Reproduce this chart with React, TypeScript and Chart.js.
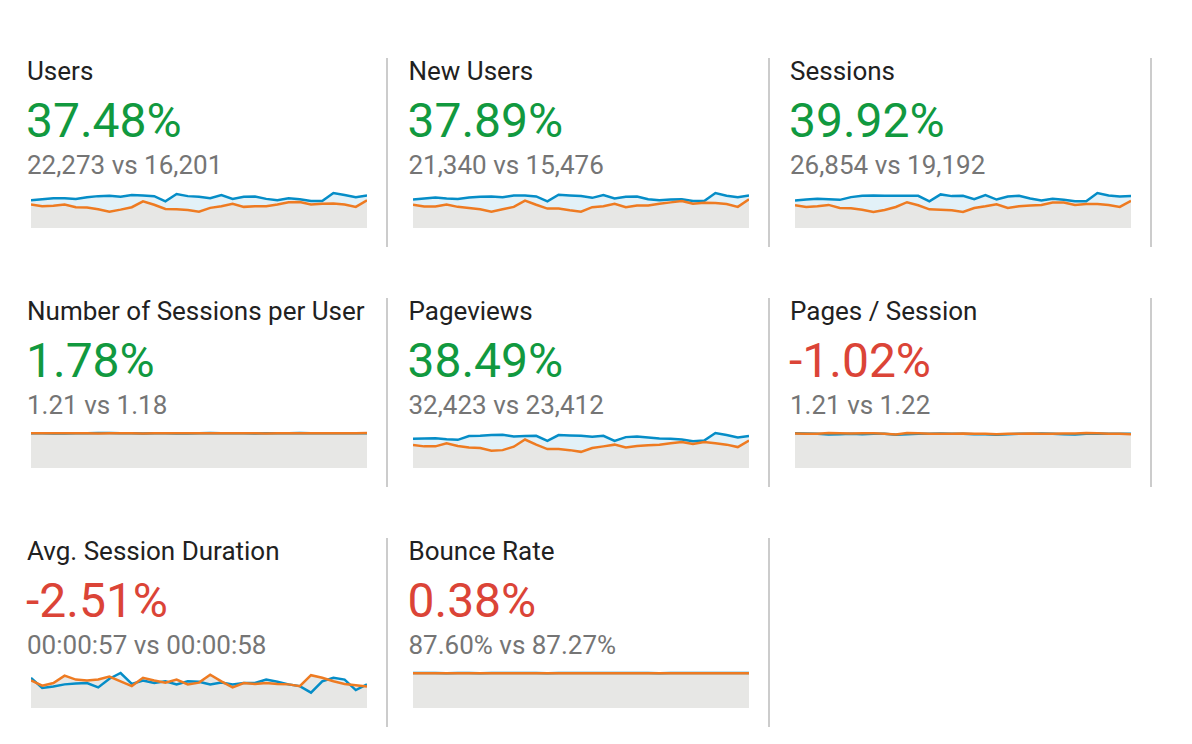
import { useEffect, useRef } from 'react';
import { Chart, registerables } from 'chart.js';

Chart.register(...registerables);

// daily points in the period (31 days)
const DAYS = Array.from({ length: 31 }, (_, i) => String(i + 1));

const usersNow = [656, 681, 705, 705, 689, 730, 754, 763, 738, 779, 771, 754, 631, 804, 754, 738, 705, 779, 689, 738, 746, 689, 656, 705, 681, 640, 640, 828, 779, 730, 771];
const usersPrev = [558, 517, 525, 558, 492, 484, 443, 385, 435, 492, 631, 549, 451, 443, 426, 385, 476, 517, 574, 500, 517, 517, 558, 607, 615, 558, 574, 582, 558, 500, 656];

const newUsersNow = [640, 663, 686, 663, 655, 686, 702, 710, 694, 733, 733, 710, 601, 749, 733, 718, 679, 741, 663, 702, 710, 647, 624, 640, 647, 608, 608, 788, 725, 694, 733];
const newUsersPrev = [523, 484, 484, 530, 476, 452, 421, 367, 421, 476, 616, 523, 437, 437, 398, 367, 468, 491, 546, 468, 507, 507, 546, 577, 608, 546, 569, 562, 538, 476, 647];

const sessionsNow = [784, 813, 833, 823, 804, 882, 921, 931, 921, 921, 921, 921, 764, 960, 911, 921, 823, 941, 813, 902, 921, 843, 784, 833, 804, 764, 764, 1000, 931, 902, 911];
const sessionsPrev = [650, 601, 621, 660, 572, 563, 524, 456, 514, 601, 737, 650, 534, 524, 504, 456, 572, 621, 679, 572, 621, 640, 660, 728, 728, 660, 689, 689, 660, 601, 776];

const perUserNow = [1.21, 1.21, 1.2, 1.2, 1.21, 1.21, 1.22, 1.22, 1.21, 1.21, 1.2, 1.21, 1.21, 1.2, 1.2, 1.21, 1.22, 1.21, 1.21, 1.21, 1.2, 1.21, 1.21, 1.21, 1.22, 1.21, 1.21, 1.21, 1.21, 1.21, 1.21];
const perUserPrev = [1.21, 1.21, 1.21, 1.21, 1.21, 1.21, 1.2, 1.21, 1.21, 1.21, 1.2, 1.21, 1.21, 1.21, 1.21, 1.21, 1.21, 1.21, 1.21, 1.21, 1.21, 1.2, 1.21, 1.21, 1.21, 1.21, 1.21, 1.21, 1.21, 1.21, 1.22];

const pageviewsNow = [999, 1011, 1022, 987, 964, 1093, 1105, 1128, 1140, 1081, 1093, 1105, 928, 1128, 1116, 1105, 1069, 1105, 928, 1058, 1081, 1046, 1011, 999, 975, 917, 940, 1199, 1128, 1046, 1093];
const pageviewsPrev = [788, 741, 741, 847, 753, 706, 682, 588, 612, 729, 976, 800, 647, 647, 612, 553, 682, 741, 800, 706, 753, 776, 800, 847, 894, 823, 894, 847, 800, 717, 941];

const pagesNow = [1.23, 1.22, 1.21, 1.19, 1.2, 1.21, 1.2, 1.21, 1.21, 1.18, 1.2, 1.21, 1.21, 1.22, 1.21, 1.21, 1.2, 1.2, 1.18, 1.2, 1.21, 1.21, 1.22, 1.21, 1.2, 1.19, 1.21, 1.22, 1.21, 1.21, 1.21];
const pagesPrev = [1.22, 1.21, 1.21, 1.24, 1.23, 1.22, 1.23, 1.23, 1.21, 1.19, 1.24, 1.23, 1.21, 1.21, 1.21, 1.22, 1.21, 1.21, 1.2, 1.21, 1.21, 1.22, 1.21, 1.21, 1.22, 1.22, 1.24, 1.23, 1.21, 1.21, 1.2];

// seconds
const durationNow = [69, 46, 49, 54, 56, 57, 47, 67, 80, 55, 63, 57, 61, 54, 61, 60, 54, 58, 54, 57, 57, 65, 60, 54, 50, 35, 61, 69, 65, 41, 54];
const durationPrev = [63, 51, 57, 74, 65, 63, 65, 72, 61, 50, 69, 63, 58, 65, 54, 58, 76, 61, 47, 57, 55, 57, 55, 54, 50, 75, 69, 61, 55, 52, 49];

const bounceNow = [87.8, 87.5, 87.6, 87.4, 87.7, 87.6, 87.3, 87.6, 87.8, 87.5, 87.6, 87.7, 87.4, 87.6, 87.5, 87.7, 87.6, 87.6, 87.5, 87.8, 87.6, 87.7, 87.4, 87.6, 87.6, 87.7, 87.5, 87.6, 87.7, 87.6, 87.6];
const bouncePrev = [87.2, 87.3, 87.1, 87.4, 87.2, 87.3, 87.2, 87.1, 87.3, 87.4, 87.2, 87.3, 87.2, 87.3, 87.2, 87.4, 87.3, 87.1, 87.2, 87.3, 87.3, 87.2, 87.4, 87.3, 87.2, 87.3, 87.3, 87.2, 87.3, 87.4, 87.3];

const titles = ['Users', 'New Users', 'Sessions', 'Number of Sessions per User', 'Pageviews', 'Pages / Session', 'Avg. Session Duration', 'Bounce Rate'];
const changes = ['37.48%', '37.89%', '39.92%', '1.78%', '38.49%', '-1.02%', '-2.51%', '0.38%'];
// true when the change is good (green), false when bad (red)
const improved = [true, true, true, true, true, false, false, false];
const totals = ['22,273 vs 16,201', '21,340 vs 15,476', '26,854 vs 19,192', '1.21 vs 1.18', '32,423 vs 23,412', '1.21 vs 1.22', '00:00:57 vs 00:00:58', '87.60% vs 87.27%'];
const nowSeries = [usersNow, newUsersNow, sessionsNow, perUserNow, pageviewsNow, pagesNow, durationNow, bounceNow];
const prevSeries = [usersPrev, newUsersPrev, sessionsPrev, perUserPrev, pageviewsPrev, pagesPrev, durationPrev, bouncePrev];

const GREEN = '#11993f';
const RED = '#db4437';
const BLUE = '#058dc7';
const ORANGE = '#ee7b22';
const FONT = 'Roboto, "Noto Sans", sans-serif';

function Sparkline({ now, prev }: { now: number[]; prev: number[] }) {
  const canvasRef = useRef<HTMLCanvasElement>(null);
  const chartRef = useRef<Chart | null>(null);

  useEffect(() => {
    if (!canvasRef.current) return;
    const top = Math.max(...now, ...prev);
    chartRef.current?.destroy();
    chartRef.current = new Chart(canvasRef.current, {
      type: 'line',
      data: {
        labels: DAYS,
        datasets: [
          {
            label: 'Previous',
            data: prev,
            borderColor: ORANGE,
            backgroundColor: '#e7e7e5',
            fill: 'origin',
            borderWidth: 2.5,
            pointRadius: 0,
            tension: 0,
            clip: 4,
          },
          {
            label: 'Current',
            data: now,
            borderColor: BLUE,
            backgroundColor: '#e2f1f8',
            fill: 'origin',
            borderWidth: 2.5,
            pointRadius: 0,
            tension: 0,
            clip: 4,
          },
        ],
      },
      options: {
        animation: false,
        responsive: true,
        maintainAspectRatio: false,
        layout: { padding: { top: 3, bottom: 0, left: 0, right: 0 } },
        plugins: {
          legend: { display: false },
          tooltip: { enabled: false },
          filler: { drawTime: 'beforeDatasetsDraw' },
        },
        scales: {
          x: { display: false, offset: false },
          y: { display: false, min: 0, max: top },
        },
      },
    });
    return () => { chartRef.current?.destroy(); };
  }, [now, prev]);

  return <canvas ref={canvasRef} />;
}

export default function App() {
  return (
    <div style={{ position: 'absolute', left: 0, top: 0, width: 1192, height: 744, background: '#fff', fontFamily: FONT }}>
      {titles.map((t, i) => {
        const col = i % 3;
        const row = Math.floor(i / 3);
        const tx = 27 + 381.5 * col;
        const oy = 240 * row;
        return (
          <div key={t}>
            <div style={{ position: 'absolute', left: tx, top: 58 + oy, fontSize: 26, lineHeight: '26px', color: '#212121', whiteSpace: 'nowrap' }}>{t}</div>
            <div style={{ position: 'absolute', left: tx - 1, top: 97 + oy, fontSize: 48, lineHeight: '48px', color: improved[i] ? GREEN : RED, whiteSpace: 'nowrap' }}>{changes[i]}</div>
            <div style={{ position: 'absolute', left: tx, top: 152 + oy, fontSize: 26, lineHeight: '26px', color: '#757575', whiteSpace: 'nowrap' }}>{totals[i]}</div>
            <div style={{ position: 'absolute', left: 31 + 382 * col, top: 190 + oy, width: 336, height: 38 }}>
              <Sparkline now={nowSeries[i]} prev={prevSeries[i]} />
            </div>
          </div>
        );
      })}
      {[0, 1, 2].map((row) =>
        [0, 1, 2].map((col) =>
          row === 2 && col === 2 ? null : (
            <div key={`d${row}${col}`} style={{ position: 'absolute', left: 386 + 382 * col, top: 58 + 240 * row, width: 2, height: 189, background: '#cccccc' }} />
          ),
        ),
      )}
    </div>
  );
}
